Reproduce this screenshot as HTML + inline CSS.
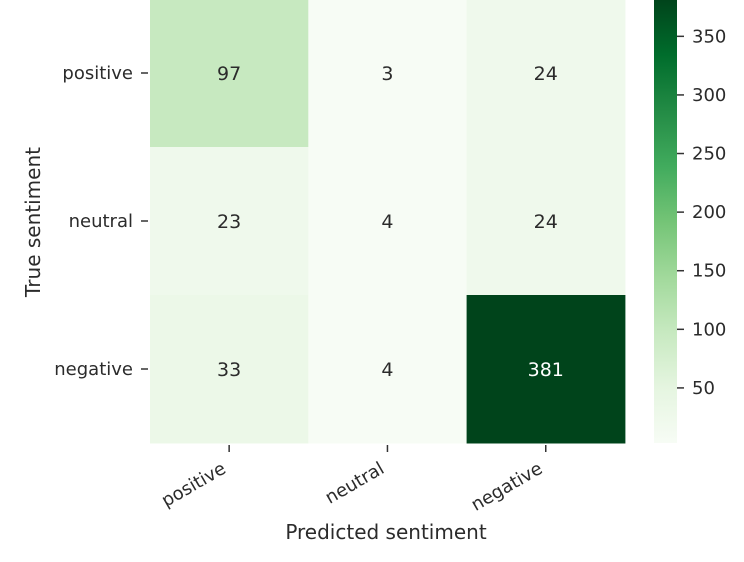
<!DOCTYPE html>
<html><head><meta charset="utf-8"><style>
body{margin:0;background:#fff;}
svg text{font-family:"DejaVu Sans","Liberation Sans",sans-serif;fill:#2b2b2b;}
</style></head><body>
<svg id="chart" width="744" height="557" xmlns="http://www.w3.org/2000/svg">
<defs><linearGradient id="greens" x1="0" y1="1" x2="0" y2="0">
<stop offset="0" stop-color="#f7fcf5"/><stop offset="0.125" stop-color="#e5f5e0"/><stop offset="0.25" stop-color="#c7e9c0"/><stop offset="0.375" stop-color="#a1d99b"/><stop offset="0.5" stop-color="#74c476"/><stop offset="0.625" stop-color="#41ab5d"/><stop offset="0.75" stop-color="#238b45"/><stop offset="0.875" stop-color="#006d2c"/><stop offset="1" stop-color="#00441b"/>
</linearGradient></defs>
<g id="cells"></g>
<rect x="654" y="0" width="23" height="443" fill="url(#greens)"/>
<g id="axes"></g>
<text x="386" y="539" font-size="20" text-anchor="middle">Predicted sentiment</text>
<text transform="translate(40,222) rotate(-90)" font-size="20" text-anchor="middle">True sentiment</text>
</svg>
<script>
const categories = ["positive","neutral","negative"];
const values = [[97,3,24],[23,4,24],[33,4,381]];
const cbTicks = [50,100,150,200,250,300,350];
const stops = ["#f7fcf5","#e5f5e0","#c7e9c0","#a1d99b","#74c476","#41ab5d","#238b45","#006d2c","#00441b"];
const flat = values.flat();
const vmin = Math.min(...flat), vmax = Math.max(...flat);
const X0=150, CW=158.3, Y0=-1, RH=148, CBTOP=0, CBBOT=443;
function xPos(i){return X0+i*CW;}
function yPos(i){return Y0+i*RH;}
function cbY(v){return CBBOT-(v-vmin)/(vmax-vmin)*(CBBOT-CBTOP);}
function hex(c){return [1,3,5].map(k=>parseInt(c.substr(k,2),16));}
function color(v){
  let t=(v-vmin)/(vmax-vmin)*(stops.length-1);
  let i=Math.min(Math.floor(t),stops.length-2), f=t-i;
  let a=hex(stops[i]), b=hex(stops[i+1]);
  return "rgb("+a.map((x,k)=>Math.round(x+(b[k]-x)*f)).join(",")+")";
}
const NS="http://www.w3.org/2000/svg";
const cells=document.getElementById("cells"), axes=document.getElementById("axes");
function mk(tag,attrs,parent){const e=document.createElementNS(NS,tag);for(const k in attrs)e.setAttribute(k,attrs[k]);parent.appendChild(e);return e;}
values.forEach((row,r)=>row.forEach((v,c)=>{
  const rect=mk("rect",{x:xPos(c),y:yPos(r),width:CW+0.5,height:RH+0.5,fill:color(v)},cells);
  
  
  const t=mk("text",{x:xPos(c)+CW/2,y:yPos(r)+RH/2+7,"font-size":"19","text-anchor":"middle"},cells);
  t.textContent=v;
  if((v-vmin)/(vmax-vmin)>0.6) t.style.fill="#fff";
  
  
}));
categories.forEach((c,i)=>{
  const cy=yPos(i)+RH/2, cx=xPos(i)+CW/2;
  mk("line",{x1:141,x2:148,y1:cy,y2:cy,stroke:"#333","stroke-width":1.5},axes);
  const t=mk("text",{x:133,y:cy+6,"font-size":"18","text-anchor":"end"},axes);
  t.textContent=c;
  
  
  mk("line",{x1:cx,x2:cx,y1:445,y2:452,stroke:"#333","stroke-width":1.5},axes);
  const tx=mk("text",{transform:"translate("+(cx-2)+",472) rotate(-30)","font-size":"18","text-anchor":"end"},axes);
  tx.textContent=c;
  
  
});
cbTicks.forEach(v=>{
  const y=cbY(v);
  mk("line",{x1:677,x2:684,y1:y,y2:y,stroke:"#333","stroke-width":1.5},axes);
  const t=mk("text",{x:692,y:y+6,"font-size":"18"},axes);
  t.textContent=v;
  
  
});
</script>
</body></html>
